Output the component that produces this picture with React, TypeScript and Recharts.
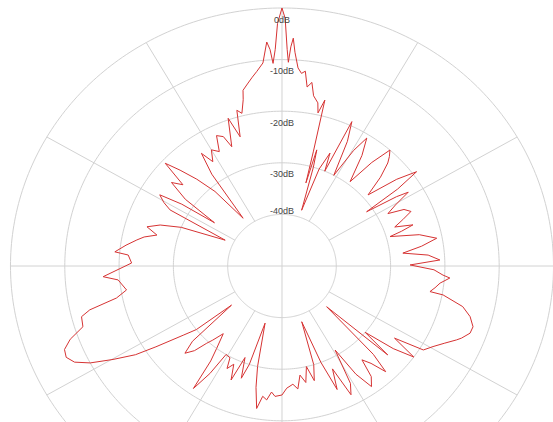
import { ComposedChart, Line, XAxis, YAxis, ReferenceLine, ReferenceDot } from 'recharts';

const ringLevels = [0, -10, -20, -30, -40];
const ringLabels = ['0dB', '-10dB', '-20dB', '-30dB', '-40dB'];
const spokeAngles = [0, 30, 60, 90, 120, 150, 180, 210, 240, 270, 300, 330];

// [angle in degrees, clockwise from top ; level in dB]
const pattern: [number, number][] = [
  [0, 0], [0.7, -2], [1.3, -8], [1.7, -10.5], [2.2, -7.5], [2.7, -5.8], [3.3, -8.5],
  [4.4, -11.5], [5.5, -12.5], [6.5, -12], [7.6, -15], [8.8, -14], [10, -16.5], [11.8, -17.7],
  [12.6, -19.6], [13.8, -16.9], [14.6, -27], [15.3, -33.3], [15.9, -26.6], [16.8, -30],
  [18.5, -38.6], [20, -30], [22, -26.4], [23.2, -30], [24.7, -19.2], [26.5, -23], [28.5, -30],
  [30.5, -24], [32.2, -20.7], [34.5, -24], [37.5, -29.4], [39.5, -24], [41.5, -20], [43, -21],
  [44.3, -22.1], [46.5, -25], [49, -29], [51.5, -23], [53.6, -19.2], [55, -24], [56, -31.2],
  [57.5, -25], [58.4, -22.7], [60.5, -26], [62.5, -28], [64, -25], [66, -24], [68, -26],
  [70, -27.9], [71.7, -24.6], [73, -27], [74, -29.3], [76.5, -24], [79.3, -21], [81.5, -24],
  [83.6, -27.6], [85.5, -23], [87.7, -20.9], [89.5, -26.4], [91.5, -22], [93.4, -20.3],
  [94.3, -19], [96.5, -20.7], [98.5, -21.5], [100.3, -22.3], [100.7, -19.8], [103.3, -15.8],
  [105.8, -14], [108.5, -12.9], [110.6, -13], [112.9, -14.1], [114, -14.8], [116.5, -16.5],
  [119.3, -18.1], [122, -19.3], [124, -25], [126, -20], [128, -24], [130, -30], [131.5, -24],
  [133.8, -38.6], [135.5, -26], [137, -22], [139, -25], [141, -26.6], [142.5, -23],
  [144.8, -21.4], [147, -25], [149, -31], [151, -24], [153, -22], [155, -28], [157, -24],
  [159, -30], [161.4, -38.6], [163, -30], [165, -27], [167, -30], [169, -27], [171.1, -28.6],
  [173, -26], [175, -27], [177.9, -26.3], [180, -25], [182.9, -24.7], [184.5, -25.5],
  [186.2, -23.9], [188, -24.5], [189.6, -22], [191.5, -26], [193, -30], [195.7, -38.5],
  [197.5, -30], [199, -27], [201, -31], [203, -26], [205, -29], [207, -27.7], [208.3, -29.8],
  [211, -30], [212.5, -25.3], [214.5, -21.2], [215.5, -27.4], [217, -30], [219.5, -33],
  [221.6, -30.8], [222.8, -29.6], [224.5, -27], [226.6, -25.4], [228.5, -28], [230.8, -38],
  [232, -30], [233.6, -27.4], [236, -22], [237.5, -18], [239.8, -14], [242, -10], [244, -7.5],
  [246, -6.5], [248, -6.8], [250, -8.5], [252.2, -11.5], [255.1, -11.8], [256.5, -13.6],
  [258.5, -18.9], [260.8, -21], [264.9, -19.7], [266.4, -17], [271.2, -22.3], [274.3, -21.6],
  [275.1, -19.1], [278, -21], [280.7, -22.8], [282.5, -24], [284.6, -26.2], [287, -24],
  [289.5, -26.2], [292, -30], [295.6, -38.4], [297.8, -26.7], [299.5, -25], [301.5, -23.6],
  [303, -28], [304, -35], [306, -28], [308.5, -24], [310.8, -25.9], [312.8, -20.7],
  [314.7, -23.6], [317, -27], [319.5, -31], [322.3, -38.3], [324, -28], [325.8, -23.6],
  [327.8, -26.1], [330, -24], [332.5, -25], [334.5, -22], [336.7, -22.7], [338.2, -25.1],
  [340.9, -19.7], [342.9, -23.8], [344.6, -18.7], [346, -19.5], [347.5, -17], [348.1, -15.2],
  [350, -14], [351.5, -13], [353, -12], [354.9, -10.5], [356.3, -6.5], [357, -8],
  [357.6, -10.7], [358.3, -8], [359, -3], [360, 0],
];

const FLOOR = -50;

const toXY = (deg: number, db: number) => {
  const r = db - FLOOR;
  const a = (deg * Math.PI) / 180;
  return { x: r * Math.sin(a), y: r * Math.cos(a) };
};

const patternData = pattern.map(([deg, db]) => toXY(deg, db));

const ringData = ringLevels.map((level) =>
  Array.from({ length: 361 }, (_, i) => toXY(i, level))
);

export default function App() {
  return (
    <div style={{ position: 'fixed', left: 0, top: 0, width: 553, height: 422, overflow: 'hidden', background: '#fff' }}>
      <ComposedChart width={553} height={422} margin={{ top: 0, right: 0, bottom: 0, left: 0 }}>
        <XAxis type="number" dataKey="x" domain={[-51.93, 49.91]} allowDataOverflow hide />
        <YAxis type="number" dataKey="y" domain={[-30.23, 51.55]} allowDataOverflow hide />
        {spokeAngles.map((deg) => {
          const cross = deg % 90 === 0;
          const from = cross ? { x: 0, y: 0 } : toXY(deg, -40);
          const to = toXY(deg, 0);
          return (
            <ReferenceLine
              key={'s' + deg}
              segment={[from, to]}
              stroke="#d2d2d2"
              strokeWidth={1}
              ifOverflow="hidden"
            />
          );
        })}
        {ringData.map((d, i) => (
          <Line
            key={'r' + i}
            data={d}
            dataKey="y"
            type="linear"
            stroke="#d2d2d2"
            strokeWidth={1}
            dot={false}
            activeDot={false}
            isAnimationActive={false}
          />
        ))}
        <Line
          data={patternData}
          dataKey="y"
          type="linear"
          stroke="#d63333"
          strokeWidth={1}
          dot={false}
          activeDot={false}
          isAnimationActive={false}
        />
        {ringLevels.map((level, i) => (
          <ReferenceDot
            key={'l' + level}
            x={0}
            y={level - FLOOR + (level === -40 ? 0.7 : -2.2)}
            r={0}
            fill="none"
            stroke="none"
            label={{ value: ringLabels[i], position: 'center', fill: '#444', fontSize: 9, fontFamily: 'Liberation Sans, Arial, sans-serif' }}
          />
        ))}
      </ComposedChart>
    </div>
  );
}
